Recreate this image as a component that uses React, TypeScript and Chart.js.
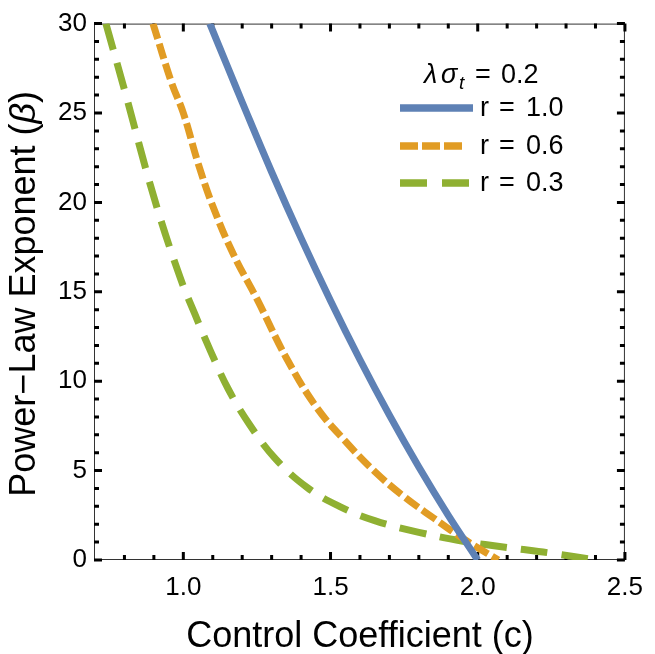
import React, { useEffect, useRef } from "react";
import { Chart, registerables } from "chart.js";

Chart.register(...registerables);

// ---- axis ranges & ticks ----
const X_MIN = 0.7;
const X_MAX = 2.5;
const Y_MIN = 0;
const Y_MAX = 30;
const X_MAJOR = [1.0, 1.5, 2.0, 2.5];
const X_MINOR = [0.8, 0.9, 1.1, 1.2, 1.3, 1.4, 1.6, 1.7, 1.8, 1.9, 2.1, 2.2, 2.3, 2.4];
const Y_MAJOR = [0, 5, 10, 15, 20, 25, 30];
const Y_MINOR = [1, 2, 3, 4, 6, 7, 8, 9, 11, 12, 13, 14, 16, 17, 18, 19, 21, 22, 23, 24, 26, 27, 28, 29];

// ---- series: r = 1.0 ----
const C_R10 = [1.09, 1.15, 1.2, 1.3, 1.4, 1.5, 1.6, 1.7, 1.8, 1.9, 2.0];
const B_R10 = [30, 27.6, 25.6, 21.7, 18.0, 14.5, 11.2, 8.1, 5.2, 2.5, 0];

// ---- series: r = 0.6 ----
const C_R06 = [0.897, 0.96, 1.0, 1.05, 1.1, 1.17, 1.25, 1.35, 1.45, 1.55, 1.65, 1.75, 1.85, 1.95, 2.07];
const B_R06 = [30, 26.7, 25.0, 22.2, 19.8, 17.1, 14.6, 11.3, 8.6, 6.65, 4.95, 3.54, 2.35, 1.2, 0];

// ---- series: r = 0.3 ----
const C_R03 = [0.737, 0.8, 0.9, 0.987, 1.039, 1.094, 1.153, 1.226, 1.311, 1.42, 1.53, 1.65, 1.8, 1.95, 2.1, 2.25, 2.4];
const B_R03 = [30, 26.3, 20.3, 15.9, 13.76, 11.63, 9.55, 7.55, 5.7, 4.06, 3.0, 2.2, 1.55, 1.05, 0.7, 0.38, 0];

const SERIES_LABELS = ["r = 1.0", "r = 0.6", "r = 0.3"];
const LEGEND_VALUES = ["1.0", "0.6", "0.3"];
const COLORS = ["#5E81B5", "#E19C24", "#8FB032"];
const PLOT_DASH = [[], [16, 5], [27, 14]];
const LEGEND_DASH = [[], [18, 4], [27, 15]];

const FONT = '"Liberation Sans", Arial, Helvetica, sans-serif';

const framePlugin = {
  id: "mmaFrame",
  beforeDatasetsDraw(chart: any) {
    const { ctx, chartArea: a, scales } = chart;
    const xs = scales.x;
    const ys = scales.y;
    ctx.save();
    // frame
    ctx.strokeStyle = "#333";
    ctx.lineWidth = 1;
    ctx.strokeRect(a.left - 0.5, a.top + 0.5, a.right - a.left, a.bottom - a.top - 1);
    // ticks
    ctx.strokeStyle = "#000";
    ctx.lineWidth = 3;
    ctx.lineCap = "butt";
    const xt = (v: number, len: number) => {
      const px = xs.getPixelForValue(v);
      ctx.beginPath();
      ctx.moveTo(px, a.bottom);
      ctx.lineTo(px, a.bottom - len);
      ctx.moveTo(px, a.top);
      ctx.lineTo(px, a.top + len);
      ctx.stroke();
    };
    const yt = (v: number, len: number) => {
      const py = ys.getPixelForValue(v);
      ctx.beginPath();
      ctx.moveTo(a.left - 1, py);
      ctx.lineTo(a.left - 1 + len, py);
      ctx.moveTo(a.right, py);
      ctx.lineTo(a.right - len, py);
      ctx.stroke();
    };
    X_MAJOR.forEach((v) => xt(v, 8));
    X_MINOR.forEach((v) => xt(v, 5));
    Y_MAJOR.forEach((v) => yt(v, 8));
    Y_MINOR.forEach((v) => yt(v, 5));
    ctx.restore();
  },
  afterDraw(chart: any) {
    const { ctx, chartArea: a } = chart;
    ctx.save();
    ctx.fillStyle = "#000";
    ctx.textBaseline = "alphabetic";

    // x axis title
    ctx.font = `36px ${FONT}`;
    ctx.textAlign = "center";
    ctx.fillText("Control Coefficient (c)", (a.left + a.right) / 2, 647);

    // y axis title (rotated) with italic beta
    ctx.save();
    ctx.translate(35, (a.top + a.bottom) / 2 + 2);
    ctx.rotate(-Math.PI / 2);
    ctx.textAlign = "left";
    const p1 = "Power\u2212Law Exponent (";
    const p2 = "\u03B2";
    const p3 = ")";
    ctx.font = `36px ${FONT}`;
    const w1 = ctx.measureText(p1).width;
    const w3 = ctx.measureText(p3).width;
    ctx.font = `italic 36px ${FONT}`;
    const w2 = ctx.measureText(p2).width;
    const total = w1 + w2 + w3;
    const x0 = -total / 2;
    ctx.font = `36px ${FONT}`;
    ctx.fillText(p1, x0, 0);
    ctx.font = `italic 36px ${FONT}`;
    ctx.fillText(p2, x0 + w1, 0);
    ctx.font = `36px ${FONT}`;
    ctx.fillText(p3, x0 + w1 + w2, 0);
    ctx.restore();

    // legend title: λσ_t = 0.2
    ctx.textAlign = "left";
    ctx.font = `italic 27px ${FONT}`;
    ctx.fillText("\u03BB", 424, 83);
    ctx.fillText("\u03C3", 441, 83);
    ctx.font = `italic 19px ${FONT}`;
    ctx.fillText("t", 459, 89);
    ctx.font = `27px ${FONT}`;
    ctx.fillText("=", 475, 83);
    ctx.fillText("0.2", 501, 83);

    // legend entries
    const rowY = [108, 146, 183];
    const baseY = [116, 154, 191];
    chart.data.datasets.forEach((ds: any, i: number) => {
      ctx.save();
      ctx.strokeStyle = ds.borderColor;
      ctx.lineWidth = 7.5;
      ctx.lineCap = "butt";
      ctx.setLineDash(LEGEND_DASH[i]);
      ctx.beginPath();
      ctx.moveTo(400, rowY[i]);
      ctx.lineTo(i === 0 ? 473 : i === 1 ? 462 : 469, rowY[i]);
      ctx.stroke();
      ctx.restore();
      ctx.font = `27px ${FONT}`;
      ctx.fillText("r", 480, baseY[i]);
      ctx.fillText("=", 499, baseY[i]);
      ctx.fillText(LEGEND_VALUES[i], 526, baseY[i]);
    });
    ctx.restore();
  },
};

export default function App() {
  const ref = useRef<HTMLCanvasElement | null>(null);

  useEffect(() => {
    document.body.style.margin = "0";
    const canvas = ref.current;
    if (!canvas) return;
    const series = [
      [C_R10, B_R10],
      [C_R06, B_R06],
      [C_R03, B_R03],
    ];
    const chart = new Chart(canvas, {
      type: "line",
      data: {
        datasets: series.map(([cs, bs], i) => ({
          label: SERIES_LABELS[i],
          data: cs.map((c, k) => ({ x: c, y: bs[k] })),
          borderColor: COLORS[i],
          backgroundColor: COLORS[i],
          borderWidth: 7,
          borderDash: PLOT_DASH[i],
          borderCapStyle: "butt",
          pointRadius: 0,
          fill: false,
          tension: 0.4,
        })),
      },
      options: {
        animation: false,
        responsive: false,
        devicePixelRatio: 1,
        layout: { padding: { top: 20, right: 21, left: 0, bottom: 0 } },
        plugins: {
          legend: { display: false },
          tooltip: { enabled: false },
          title: { display: false },
        },
        scales: {
          x: {
            type: "linear",
            min: X_MIN,
            max: X_MAX,
            grid: { display: false, drawTicks: false },
            border: { display: false },
            afterBuildTicks: (s: any) => {
              s.ticks = X_MAJOR.map((v) => ({ value: v }));
            },
            afterFit: (s: any) => {
              s.height = 94;
            },
            ticks: {
              color: "#000",
              font: { family: FONT, size: 26 },
              padding: 12,
              maxRotation: 0,
              callback: (v: any) => Number(v).toFixed(1),
            },
          },
          y: {
            type: "linear",
            min: Y_MIN,
            max: Y_MAX,
            grid: { display: false, drawTicks: false },
            border: { display: false },
            afterBuildTicks: (s: any) => {
              s.ticks = Y_MAJOR.map((v) => ({ value: v }));
            },
            afterFit: (s: any) => {
              s.width = 95;
            },
            ticks: {
              color: "#000",
              font: { family: FONT, size: 26 },
              padding: 8,
              callback: (v: any) => String(v),
            },
          },
        },
      },
      plugins: [framePlugin],
    });
    return () => chart.destroy();
  }, []);

  return (
    <div style={{ position: "absolute", left: 0, top: 0, width: 655, height: 654 }}>
      <canvas ref={ref} width={655} height={654} style={{ display: "block" }} />
    </div>
  );
}
